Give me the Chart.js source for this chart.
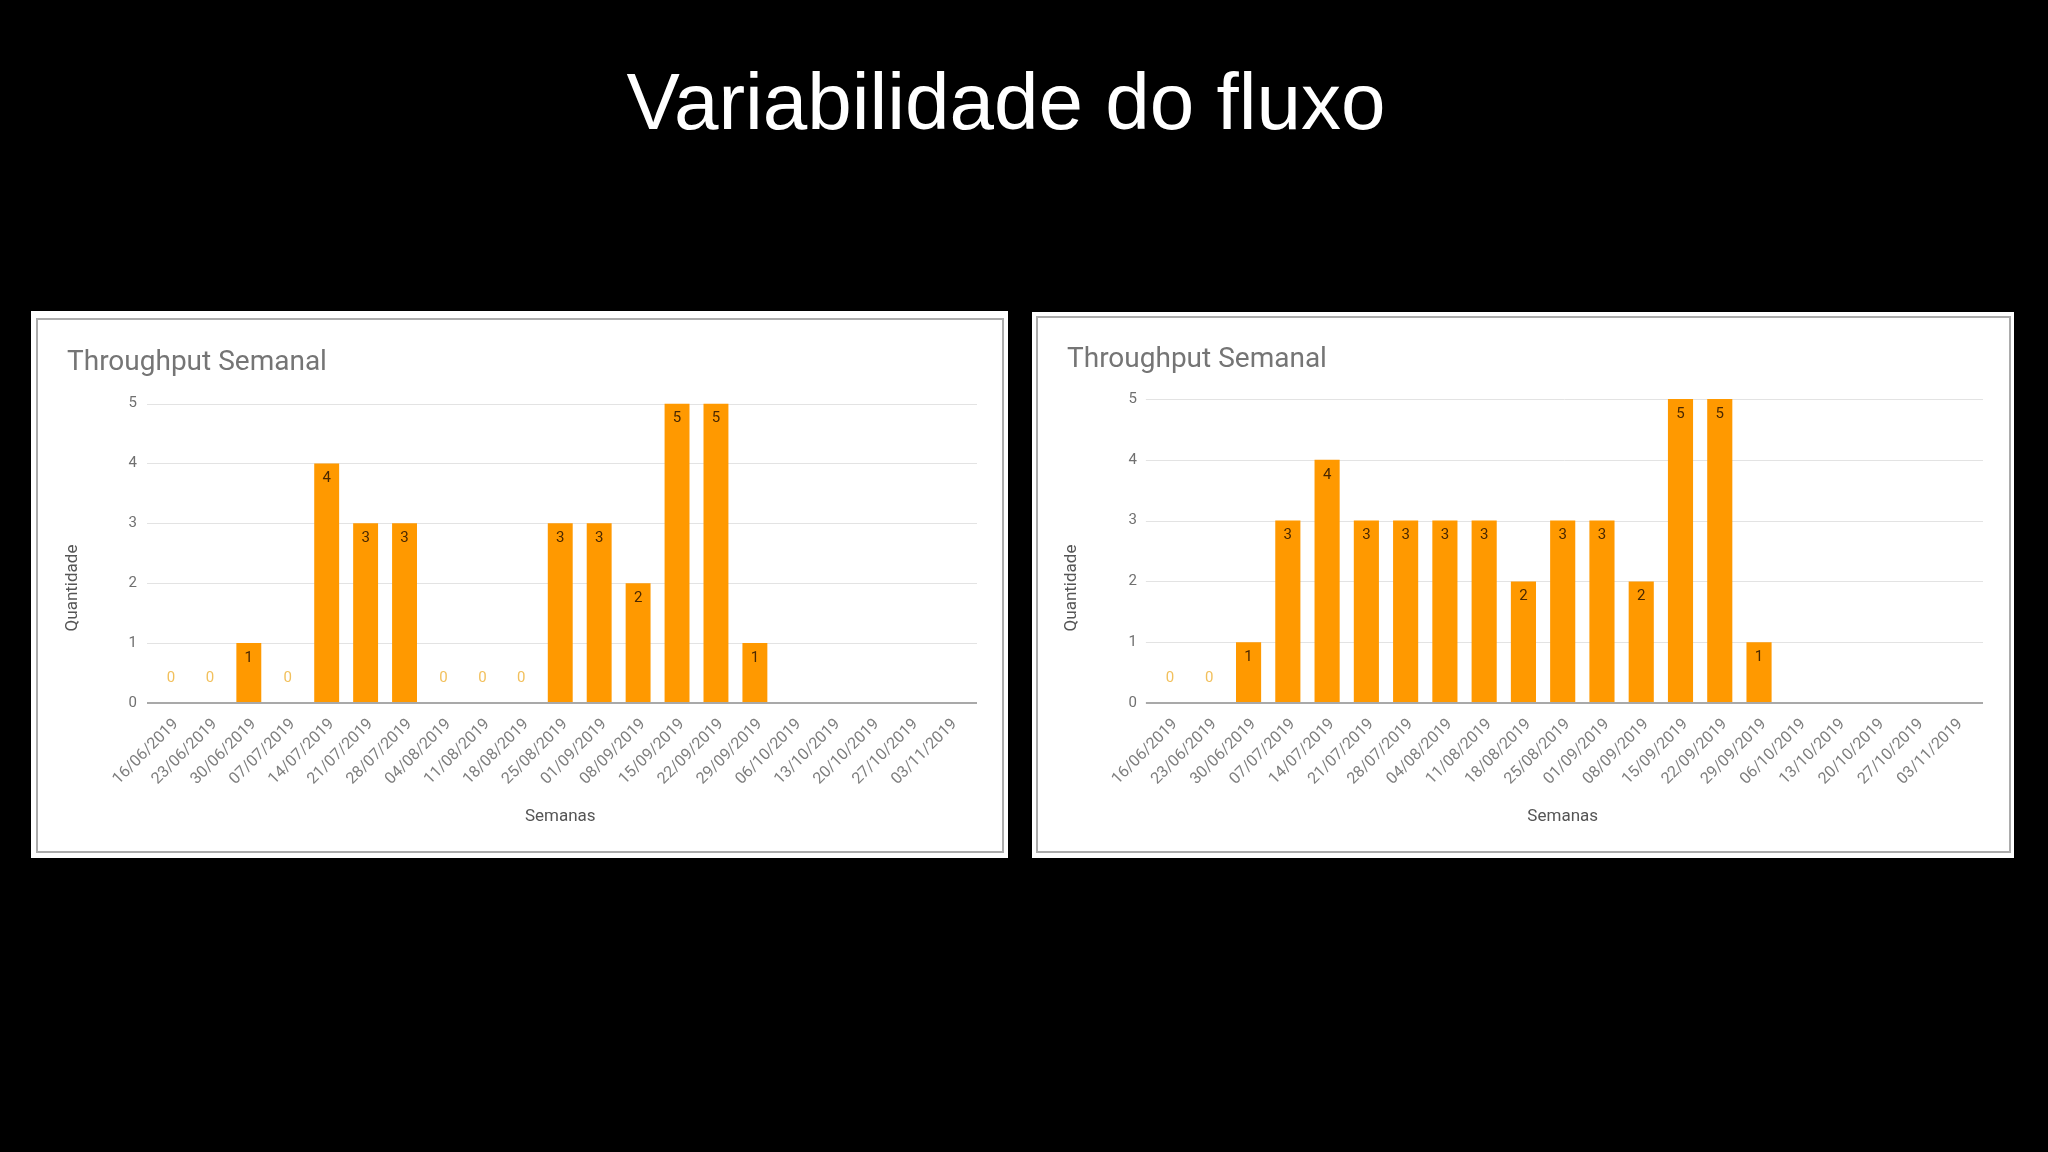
<!DOCTYPE html>
<html><head><meta charset="utf-8">
<script src="https://cdn.jsdelivr.net/npm/chart.js@4/dist/chart.umd.min.js"></script>
<style>
html,body{margin:0;padding:0;background:#000;width:2048px;height:1152px;overflow:hidden;}
#title{position:absolute;left:0;width:2012px;text-align:center;top:62px;font:80px/80px 'Liberation Sans',Arial,sans-serif;color:#fff;margin:0;white-space:nowrap;}
.panel{position:absolute;background:#fff;}
.frame{position:absolute;border:2px solid #acacac;box-sizing:border-box;}
canvas{position:absolute;}
</style></head><body>
<div id="title">Variabilidade do fluxo</div>
<div class="panel" style="left:31px;top:311px;width:977px;height:547px"></div>
<div class="frame" style="left:36px;top:318px;width:968px;height:535px"></div>
<canvas id="c1" width="964" height="532" style="left:38px;top:320px"></canvas>
<div class="panel" style="left:1032px;top:312px;width:982px;height:546px"></div>
<div class="frame" style="left:1036px;top:316px;width:975px;height:537px"></div>
<canvas id="c2" width="968" height="531" style="left:1039px;top:320px"></canvas>
<script>
// ---- data ----
const weeks = ['16/06/2019','23/06/2019','30/06/2019','07/07/2019','14/07/2019','21/07/2019','28/07/2019',
  '04/08/2019','11/08/2019','18/08/2019','25/08/2019','01/09/2019','08/09/2019','15/09/2019','22/09/2019',
  '29/09/2019','06/10/2019','13/10/2019','20/10/2019','27/10/2019','03/11/2019'];
const throughputLeft  = [0,0,1,0,4,3,3,0,0,0,3,3,2,5,5,1,null,null,null,null,null];
const throughputRight = [0,0,1,3,4,3,3,3,3,2,3,3,2,5,5,1,null,null,null,null,null];
const yMin = 0, yMax = 5, yStep = 1;
const chartTitle = 'Throughput Semanal';
const xTitle = 'Semanas';
const yTitle = 'Quantidade';

Chart.defaults.font.family = 'Roboto';

const gridPlugin = {
  id: 'extGrid',
  beforeDatasetsDraw(chart) {
    const {ctx, chartArea: a, scales: {y}} = chart;
    ctx.save();
    ctx.strokeStyle = '#e3e3e3'; ctx.lineWidth = 1;
    y.ticks.forEach(t => {
      if (t.value === 0) return;
      const py = Math.round(y.getPixelForValue(t.value)) + 0.5;
      ctx.beginPath(); ctx.moveTo(a.left - 4.5, py); ctx.lineTo(a.right + 8, py); ctx.stroke();
    });
    ctx.restore();
  },
  afterDatasetsDraw(chart) {
    const {ctx, chartArea: a, scales: {y}} = chart;
    const p0 = y.getPixelForValue(0);
    ctx.save();
    ctx.strokeStyle = '#a9a9a9'; ctx.lineWidth = 2;
    ctx.beginPath(); ctx.moveTo(a.left - 4.5, p0); ctx.lineTo(a.right + 8, p0); ctx.stroke();
    ctx.restore();
  }
};

const valuePlugin = {
  id: 'values',
  afterDatasetsDraw(chart) {
    const {ctx} = chart;
    const meta = chart.getDatasetMeta(0);
    const data = chart.data.datasets[0].data;
    ctx.save();
    ctx.font = '15px Roboto'; ctx.textAlign = 'center'; ctx.textBaseline = 'middle';
    meta.data.forEach((el, i) => {
      const v = data[i];
      if (v == null) return;
      if (v > 0) { ctx.fillStyle = '#4a2800'; ctx.fillText(String(v), el.x, el.y + 15); }
      else { ctx.fillStyle = '#f2c05c'; ctx.fillText(String(v), el.x, el.y - 25); }
    });
    ctx.restore();
  }
};

const yTitlePlugin = {
  id: 'yTitle',
  afterDraw(chart, args, opts) {
    const {ctx, chartArea: a} = chart;
    ctx.save();
    ctx.translate(a.left - 79, a.bottom - 115);
    ctx.rotate(-Math.PI / 2);
    ctx.font = '17px Roboto'; ctx.fillStyle = '#555'; ctx.textAlign = 'center'; ctx.textBaseline = 'middle';
    ctx.fillText(opts.text, 0, 0);
    ctx.restore();
  }
};

function makeChart(id, values, g) {
  return new Chart(document.getElementById(id), {
    type: 'bar',
    data: { labels: weeks, datasets: [{ data: values, backgroundColor: '#ff9900', borderWidth: 0,
      barPercentage: 0.64, categoryPercentage: 1.0 }] },
    options: {
      responsive: false, animation: false, devicePixelRatio: 1,
      layout: { padding: { left: g.padL, right: g.padR, top: 0, bottom: g.padB } },
      plugins: {
        legend: { display: false }, tooltip: { enabled: false },
        title: { display: true, text: chartTitle, align: 'start', color: '#757575',
          font: { size: 28, weight: 'normal', family: 'Roboto' }, padding: { top: g.tPadT, bottom: g.tPadB } },
        yTitle: { text: yTitle }
      },
      scales: {
        x: {
          grid: { display: false, drawTicks: false }, border: { display: false },
          ticks: { autoSkip: false, minRotation: 45, maxRotation: 45, padding: 12, labelOffset: 5,
            color: '#7e7e7e', font: { size: 16 } },
          title: { display: true, text: xTitle, color: '#555', font: { size: 17 }, padding: { top: 0, bottom: 0 } },
          afterFit(s) { s.height = g.xH; }
        },
        y: {
          min: yMin, max: yMax,
          grid: { display: false, drawTicks: false }, border: { display: false },
          ticks: { stepSize: yStep, padding: g.yTickPad, color: '#707070', font: { size: 15 } },
          afterFit(s) { s.width = g.yW; }
        }
      }
    },
    plugins: [gridPlugin, valuePlugin, yTitlePlugin]
  });
}

makeChart('c1', throughputLeft,  { padL: 29, padR: 33, padB: 25.4, yW: 84.5, xH: 123.6, tPadT: 26, tPadB: 24, yTickPad: 14.5 });
makeChart('c2', throughputRight, { padL: 28, padR: 32, padB: 24.4, yW: 83.4, xH: 123.6, tPadT: 22.8, tPadB: 22.6, yTickPad: 13.4 });
</script>
</body></html>
